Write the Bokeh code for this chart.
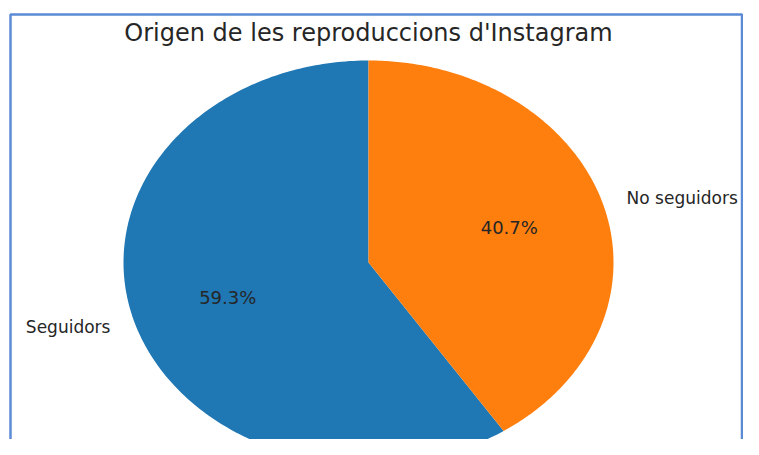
import numpy as np
from bokeh.plotting import figure
from bokeh.models import Range1d, Label, BoxAnnotation, ColumnDataSource
from bokeh.core.properties import value
from bokeh.embed import file_html
from bokeh.resources import INLINE

# ---- data ----
chart_title = "Origen de les reproduccions d'Instagram"
labels = ["Seguidors", "No seguidors"]
shares = [59.3, 40.7]
colors = ["#1f77b4", "#ff7f0e"]

# ---- layout ----
W, H = 743, 439
cx_px, cy_px = 368, 262      # pie centre, pixels from left / top of figure
rx_px, ry_px = 245, 202      # horizontal / vertical radius in pixels (stretched image)

x_range = Range1d(-cx_px / rx_px, (W - cx_px) / rx_px)
y_range = Range1d(-(H - cy_px) / ry_px, cy_px / ry_px)

p = figure(width=W, height=H, x_range=x_range, y_range=y_range,
           output_backend="svg", toolbar_location=None, min_border=0)
p.axis.visible = False
p.grid.visible = False
p.outline_line_color = None
p.background_fill_color = "white"
p.border_fill_color = "white"

FONT = "DejaVu Sans"
TXT = "#262626"

# ---- wedges ----
vals = np.array(shares, dtype=float)
fracs = vals / vals.sum()
start = np.deg2rad(90.0)
xs, ys, lx, ly, px, py, align = [], [], [], [], [], [], []
a0 = start
for f in fracs:
    a1 = a0 + f * 2 * np.pi
    t = np.linspace(a0, a1, 240)
    xs.append(np.concatenate([[0.0], np.cos(t), [0.0]]).tolist())
    ys.append(np.concatenate([[0.0], np.sin(t), [0.0]]).tolist())
    mid = (a0 + a1) / 2
    lx.append(1.1 * np.cos(mid)); ly.append(1.1 * np.sin(mid))
    px.append(0.6 * np.cos(mid)); py.append(0.6 * np.sin(mid))
    align.append("right" if np.cos(mid) < 0 else "left")
    a0 = a1

src = ColumnDataSource(dict(xs=xs, ys=ys, color=colors, lx=lx, ly=ly, px=px, py=py,
                            label=labels, align=align,
                            pct=[f"{v:.1f}%" for v in shares]))

p.patches(xs="xs", ys="ys", fill_color="color", line_color=None, source=src)

p.text(x="lx", y="ly", text="label", text_align="align", text_baseline="middle",
       text_font=value(FONT), text_font_size="17px", text_color=TXT, source=src)
p.text(x="px", y="py", text="pct", text_align="center", text_baseline="middle",
       text_font=value(FONT), text_font_size="18px", text_color=TXT, source=src)

# ---- title ----
title_lbl = Label(x=0, y=(cy_px - 32) / ry_px, text=chart_title,
                  text_align="center", text_baseline="alphabetic",
                  text_font=FONT, text_font_size="24px", text_color=TXT)
p.add_layout(title_lbl)

# ---- blue frame ----
def xd(px_):
    return x_range.start + px_ / rx_px

def yd(py_):
    return y_range.end - py_ / ry_px

frame = BoxAnnotation(left=xd(10), right=xd(W - 1.5), top=yd(14), bottom=yd(H + 20),
                      fill_alpha=0, line_color="#5b8bd4", line_alpha=1.0, line_width=2.5)
p.add_layout(frame)

open("out.html", "w").write(file_html(p, INLINE))
